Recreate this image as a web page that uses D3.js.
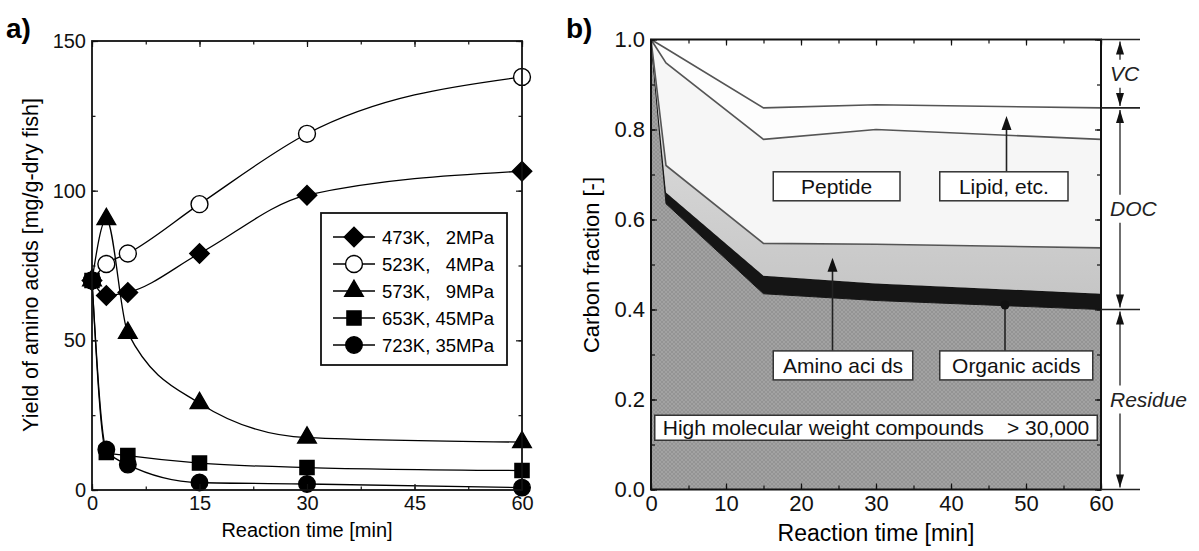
<!DOCTYPE html>
<html>
<head>
<meta charset="utf-8">
<script src="https://cdn.jsdelivr.net/npm/d3@7"></script>
<style>
  body { margin: 0; background: #fff; }
  svg { display: block; font-family: "Liberation Sans", Arial, sans-serif; }
</style>
</head>
<body>
<div id="fig"></div>
<script>
// ---- panel a) yield of amino acids ----
const timesA = [0, 2, 5, 15, 30, 60];
const temps = ["473K,", "523K,", "573K,", "653K,", "723K,"];
const pressures = ["2MPa", "4MPa", "9MPa", "45MPa", "35MPa"];
const y473 = [70, 65, 66, 79, 98.5, 106.5];
const y523 = [70, 75.5, 79, 95.5, 119, 138];
const y573 = [70, 90.5, 52.5, 29, 17.5, 16];
const y653 = [70, 12.5, 11.5, 9, 7.5, 6.5];
const y723 = [70, 13.5, 8.5, 2.5, 2, 0.8];
const xTicksA = [0, 15, 30, 45, 60];
const yTicksA = [0, 50, 100, 150];

// ---- panel b) carbon fraction ----
const timesB = [0, 2, 15, 30, 60];
const residueTop = [1.0, 0.635, 0.435, 0.42, 0.40];
const organicTop = [1.0, 0.66, 0.475, 0.458, 0.435];
const aminoTop = [1.0, 0.72, 0.547, 0.545, 0.537];
const peptideTop = [1.0, 0.948, 0.778, 0.80, 0.778];
const lipidTop = [1.0, 0.98, 0.848, 0.855, 0.848];
const xTicksB = [0, 10, 20, 30, 40, 50, 60];
const yTicksB = [0, 0.2, 0.4, 0.6, 0.8, 1.0];
const boxNames = ["Peptide", "Lipid, etc.", "Amino aci ds", "Organic acids"];

function chart() {
    const width = 1199,
        height = 551;

    const svg = d3.select("#fig").append("svg")
        .attr("width", width)
        .attr("height", height)
        .attr("viewBox", [0, 0, width, height]);

    const defs = svg.append("defs");
    const hatch = defs.append("pattern")
        .attr("id", "hatch")
        .attr("patternUnits", "userSpaceOnUse")
        .attr("width", 4).attr("height", 4);
    hatch.append("rect").attr("width", 4).attr("height", 4).attr("fill", "#a2a2a2");
    hatch.append("path").attr("d", "M0,4L4,0M0,0L4,4")
        .attr("stroke", "#8e8e8e").attr("stroke-width", 0.7);

    const grad = defs.append("linearGradient")
        .attr("id", "aminoGrad").attr("x1", 0).attr("x2", 0).attr("y1", 0).attr("y2", 1);
    grad.append("stop").attr("offset", "0%").attr("stop-color", "#e4e4e4");
    grad.append("stop").attr("offset", "100%").attr("stop-color", "#c6c6c6");

    // inward ticks on all four sides, labels on left and bottom
    function frame(x, y, o) {
        const [x0, x1] = x.range(), [y0, y1] = y.range();
        const g = svg.append("g");
        const axes = [
            [d3.axisBottom, y0, o.xMajor, o.xMinor, true, "x"],
            [d3.axisTop, y1, o.xMajor, o.xMinor, false, "x"],
            [d3.axisLeft, x0, o.yMajor, o.yMinor, true, "y"],
            [d3.axisRight, x1, o.yMajor, o.yMinor, false, "y"]
        ];
        axes.forEach(([ax, pos, major, minor, lab, dim]) => {
            const sc = dim == "x" ? x : y;
            const tr = dim == "x" ? `translate(0,${pos})` : `translate(${pos},0)`;
            g.append("g").attr("transform", tr)
                .call(ax(sc).tickValues(minor).tickSize(-o.small).tickFormat(""))
                .call(a => a.select(".domain").remove());
            const m = g.append("g").attr("transform", tr)
                .call(ax(sc).tickValues(major).tickSize(-o.big).tickPadding(o.pad)
                    .tickFormat(lab ? (dim == "x" ? o.xFmt : o.yFmt) : ""))
                .call(a => a.select(".domain").remove());
            m.attr("font-family", null).attr("font-size", null);
            m.selectAll("text").attr("font-size", o.font).attr("fill", "#111");
        });
        g.selectAll(".tick line").attr("stroke", "#111").attr("stroke-width", 1.2);
        g.append("rect")
            .attr("x", x0).attr("y", y1)
            .attr("width", x1 - x0).attr("height", y0 - y1)
            .attr("fill", "none").attr("stroke", "#111").attr("stroke-width", o.sw);
        return g;
    }

    // ================= panel a =================
    const xA = d3.scaleLinear([0, 60], [92, 522]);
    const yA = d3.scaleLinear([0, 150], [490, 41]);

    const seriesA = [y473, y523, y573, y653, y723];
    const symbols = [
        {type: d3.symbolSquare, size: 190, rot: 45, fill: "#000"},
        {type: d3.symbolCircle, size: 225, rot: 0, fill: "#fff"},
        {type: d3.symbolTriangle, size: 150, rot: 0, fill: "#000"},
        {type: d3.symbolSquare, size: 200, rot: 0, fill: "#000"},
        {type: d3.symbolCircle, size: 215, rot: 0, fill: "#000"}
    ];

    const lineA = d3.line()
        .x((d, i) => xA(timesA[i]))
        .y(d => yA(d))
        .curve(d3.curveMonotoneX);

    const plotA = svg.append("g");
    plotA.selectAll("path.series").data(seriesA).join("path")
        .attr("class", "series")
        .attr("d", lineA)
        .attr("fill", "none")
        .attr("stroke", "#000")
        .attr("stroke-width", 1.3);

    seriesA.forEach((s, k) => {
        const sym = symbols[k];
        plotA.append("g").selectAll("path").data(s).join("path")
            .attr("d", d3.symbol(sym.type, sym.size))
            .attr("transform", (d, i) => `translate(${xA(timesA[i])},${yA(d)}) rotate(${sym.rot})`)
            .attr("fill", sym.fill)
            .attr("stroke", "#000")
            .attr("stroke-width", 1.4);
    });

    frame(xA, yA, {
        xMajor: xTicksA, xMinor: d3.range(0, 61, 7.5),
        yMajor: yTicksA, yMinor: d3.range(0, 151, 25),
        big: 6, small: 3.5, pad: 6, font: "20px", sw: 1.8,
        xFmt: d3.format("d"), yFmt: d3.format("d")
    });

    // legend
    const leg = svg.append("g").attr("transform", "translate(321,213)");
    leg.append("rect")
        .attr("width", 186).attr("height", 152)
        .attr("fill", "#fff").attr("stroke", "#111").attr("stroke-width", 1.8);
    const rows = leg.selectAll("g.row").data(temps).join("g")
        .attr("class", "row")
        .attr("transform", (d, i) => `translate(0,${24 + i * 27})`);
    rows.append("line")
        .attr("x1", 12).attr("x2", 54)
        .attr("stroke", "#000").attr("stroke-width", 1.3);
    rows.append("path")
        .attr("d", (d, i) => d3.symbol(symbols[i].type, symbols[i].size)())
        .attr("transform", (d, i) => `translate(33,0) rotate(${symbols[i].rot})`)
        .attr("fill", (d, i) => symbols[i].fill)
        .attr("stroke", "#000").attr("stroke-width", 1.4);
    rows.append("text")
        .attr("x", 61).attr("y", 6.5)
        .attr("font-size", "18.5px")
        .text(d => d);
    rows.append("text")
        .attr("x", 173).attr("y", 6.5)
        .attr("text-anchor", "end")
        .attr("font-size", "18.5px")
        .text((d, i) => pressures[i]);

    svg.append("text")
        .attr("x", 307).attr("y", 537)
        .attr("text-anchor", "middle").attr("font-size", "20px")
        .text("Reaction time [min]");
    svg.append("text")
        .attr("transform", "translate(38,265) rotate(-90)")
        .attr("text-anchor", "middle").attr("font-size", "21.5px")
        .text("Yield of amino acids [mg/g-dry fish]");
    svg.append("text")
        .attr("x", 6).attr("y", 38)
        .attr("font-size", "28px").attr("font-weight", "bold")
        .text("a)");

    // ================= panel b =================
    const xB = d3.scaleLinear([0, 60], [651, 1101]);
    const yB = d3.scaleLinear([0, 1], [489.5, 39.5]);

    const layers = [
        {lo: null, hi: residueTop, fill: "url(#hatch)"},
        {lo: residueTop, hi: organicTop, fill: "#151515"},
        {lo: organicTop, hi: aminoTop, fill: "url(#aminoGrad)"},
        {lo: aminoTop, hi: peptideTop, fill: "#f6f6f6"},
        {lo: peptideTop, hi: lipidTop, fill: "#fdfdfd"}
    ];

    const plotB = svg.append("g");
    layers.forEach(l => {
        const area = d3.area()
            .x((d, i) => xB(timesB[i]))
            .y0((d, i) => yB(l.lo ? l.lo[i] : 0))
            .y1(d => yB(d));
        plotB.append("path")
            .datum(l.hi)
            .attr("d", area)
            .attr("fill", l.fill)
            .attr("stroke", l.lo == residueTop ? "#151515" : "none")
            .attr("stroke-width", 1);
    });

    const lineB = d3.line()
        .x((d, i) => xB(timesB[i]))
        .y(d => yB(d));
    plotB.selectAll("path.edge").data([lipidTop, peptideTop, aminoTop]).join("path")
        .attr("class", "edge")
        .attr("d", lineB)
        .attr("fill", "none")
        .attr("stroke", "#555")
        .attr("stroke-width", 1.6);

    // labelled boxes with pointers
    const boxes = [
        {x0: 16.3, x1: 33.2, top: 0.706, px: 47.4, tip: 0.83, arrow: false},
        {x0: 38.5, x1: 55.6, top: 0.706, px: 47.4, tip: 0.83, arrow: true},
        {x0: 16.3, x1: 34.9, top: 0.308, px: 24.2, tip: 0.515, arrow: true},
        {x0: 38.5, x1: 58.9, top: 0.308, px: 47.2, tip: 0.41, arrow: false, dot: true}
    ];
    boxes.forEach((b, i) => {
        const bx = xB(b.x0), by = yB(b.top), bw = xB(b.x1) - xB(b.x0);
        if (b.arrow || b.dot) {
            plotB.append("line")
                .attr("x1", xB(b.px)).attr("x2", xB(b.px))
                .attr("y1", by).attr("y2", yB(b.tip) + (b.arrow ? 10 : 0))
                .attr("stroke", "#222").attr("stroke-width", 1.6);
        }
        if (b.arrow) {
            const tx = xB(b.px), ty = yB(b.tip);
            plotB.append("path")
                .attr("d", `M${tx},${ty}L${tx - 5},${ty + 14}L${tx + 5},${ty + 14}Z`)
                .attr("fill", "#111");
        }
        if (b.dot) {
            plotB.append("circle")
                .attr("cx", xB(b.px)).attr("cy", yB(b.tip))
                .attr("r", 4.5).attr("fill", "#111");
        }
        plotB.append("rect")
            .attr("x", bx).attr("y", by).attr("width", bw).attr("height", 29)
            .attr("fill", "#fff").attr("stroke", "#333").attr("stroke-width", 1.5);
        plotB.append("text")
            .attr("x", bx + bw / 2).attr("y", by + 22)
            .attr("text-anchor", "middle").attr("font-size", "21px").attr("fill", "#111")
            .text(boxNames[i]);
    });

    const hm = {x0: 0.5, x1: 59.5, top: 0.165};
    plotB.append("rect")
        .attr("x", xB(hm.x0)).attr("y", yB(hm.top))
        .attr("width", xB(hm.x1) - xB(hm.x0)).attr("height", 25)
        .attr("fill", "#fff").attr("stroke", "#333").attr("stroke-width", 1.5);
    plotB.append("text")
        .attr("x", xB(hm.x0) + 8).attr("y", yB(hm.top) + 20)
        .attr("font-size", "21px").attr("fill", "#111")
        .text("High molecular weight compounds");
    plotB.append("text")
        .attr("x", xB(hm.x1) - 8).attr("y", yB(hm.top) + 20)
        .attr("text-anchor", "end")
        .attr("font-size", "21px").attr("fill", "#111")
        .text("> 30,000");

    frame(xB, yB, {
        xMajor: xTicksB, xMinor: d3.range(0, 61, 5),
        yMajor: yTicksB, yMinor: d3.range(0, 1.01, 0.1),
        big: 6, small: 4, pad: 6, font: "22px", sw: 2,
        xFmt: d3.format("d"), yFmt: d3.format(".1f")
    });

    // bracket on the right: VC / DOC / Residue
    const levels = [1.0, lipidTop[lipidTop.length - 1], residueTop[residueTop.length - 1], 0];
    const bx = 1120, ext = 1140;
    const br = svg.append("g").attr("stroke", "#222");
    levels.forEach(v => {
        br.append("line")
            .attr("x1", xB(60)).attr("x2", ext)
            .attr("y1", yB(v)).attr("y2", yB(v))
            .attr("stroke-width", 1.6);
    });
    const parts = ["VC", "DOC", "Residue"];
    parts.forEach((name, i) => {
        const yt = yB(levels[i]), yb = yB(levels[i + 1]), ym = (yt + yb) / 2;
        br.append("line").attr("x1", bx).attr("x2", bx)
            .attr("y1", yt + 2).attr("y2", ym - 14).attr("stroke-width", 1.3);
        br.append("line").attr("x1", bx).attr("x2", bx)
            .attr("y1", ym + 14).attr("y2", yb - 2).attr("stroke-width", 1.3);
        br.append("path")
            .attr("d", `M${bx},${yt + 2}L${bx - 4},${yt + 15}L${bx + 4},${yt + 15}Z`)
            .attr("fill", "#111").attr("stroke", "none");
        br.append("path")
            .attr("d", `M${bx},${yb - 2}L${bx - 4},${yb - 15}L${bx + 4},${yb - 15}Z`)
            .attr("fill", "#111").attr("stroke", "none");
        svg.append("text")
            .attr("x", 1110).attr("y", ym + 7)
            .attr("font-size", "21px").attr("font-style", "italic").attr("fill", "#222")
            .text(name);
    });

    svg.append("text")
        .attr("x", 876).attr("y", 541)
        .attr("text-anchor", "middle").attr("font-size", "23px")
        .text("Reaction time [min]");
    svg.append("text")
        .attr("transform", "translate(599,265) rotate(-90)")
        .attr("text-anchor", "middle").attr("font-size", "22px")
        .text("Carbon fraction [-]");
    svg.append("text")
        .attr("x", 566).attr("y", 38)
        .attr("font-size", "28px").attr("font-weight", "bold")
        .text("b)");
}

window.onload = function() {
    chart();
};
</script>
</body>
</html>
